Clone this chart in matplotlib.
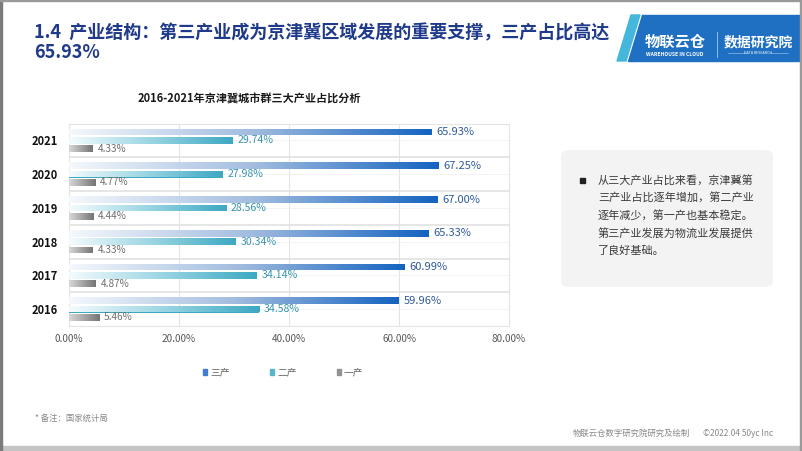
import numpy as np
import matplotlib
matplotlib.use('Agg')
import matplotlib.pyplot as plt
from matplotlib.colors import LinearSegmentedColormap
from matplotlib.patches import Rectangle, Polygon, FancyBboxPatch

plt.rcParams['font.family'] = ['Noto Sans CJK SC', 'DejaVu Sans']

years = ['2016', '2017', '2018', '2019', '2020', '2021']
tertiary = [59.96, 60.99, 65.33, 67.00, 67.25, 65.93]
secondary = [34.58, 34.14, 30.34, 28.56, 27.98, 29.74]
primary = [5.46, 4.87, 4.33, 4.44, 4.77, 4.33]
series_names = ['三产', '二产', '一产']
xticks = [0, 20, 40, 60, 80]

title = '1.4  产业结构：第三产业成为京津冀区域发展的重要支撑，三产占比高达'
title2 = '65.93%'
chart_title = '2016-2021年京津冀城市群三大产业占比分析'
note_lines = ['从三大产业占比来看，京津冀第', '三产业占比逐年增加，第二产业',
              '逐年减少，第一产也基本稳定。', '第三产业发展为物流业发展提供',
              '了良好基础。']

W, H = 802, 451
fig = plt.figure(figsize=(W / 100, H / 100), dpi=100)
fig.patch.set_facecolor('white')


def fx(px):
    return px / W


def fy(py):
    return 1 - py / H


cm3 = LinearSegmentedColormap.from_list('c3', ['#f5f8fc', '#a3bde0', '#1463c0'])
cm2 = LinearSegmentedColormap.from_list('c2', ['#f4fbfd', '#9ad5e3', '#3da8c3'])
cm1 = LinearSegmentedColormap.from_list('c1', ['#d8d8d8', '#747474'])

ax = fig.add_axes([fx(69), fy(326), fx(509) - fx(69), fy(123.5) - fy(326)])
y = np.arange(len(years))
off, h = 0.245, 0.2
series = [(tertiary, off, cm3, '#2f5a99', 8),
          (secondary, 0, cm2, '#3894ad', 7.6),
          (primary, -off, cm1, '#6e6e6e', 7.2)]

for vals, o, cm, lc, fs in series:
    bars = ax.barh(y + o, vals, height=h, color=cm(1.0), zorder=3)
    for b, v in zip(bars, vals):
        x0, y0, w, hh = b.get_x(), b.get_y(), b.get_width(), b.get_height()
        im = ax.imshow(np.linspace(0, 1, 256).reshape(1, -1), extent=[x0, x0 + w, y0, y0 + hh],
                       aspect='auto', cmap=cm, zorder=4, interpolation='bilinear')
        im.set_clip_path(b)
        ax.annotate(f'{v:.2f}%', (x0 + w, y0 + hh / 2), xytext=(3.5, 0),
                    textcoords='offset points', va='center', ha='left',
                    fontsize=fs, color=lc, zorder=5)

ax.set_xlim(0, 80)
ax.set_ylim(-0.5, len(years) - 0.5)
ax.set_xticks(xticks)
ax.set_xticklabels([f'{t:.2f}%' for t in xticks])
ax.set_yticks(y)
ax.set_yticklabels(years, fontweight='bold')
ax.tick_params(axis='x', length=0, pad=6, labelsize=7.2, labelcolor='#595959')
ax.tick_params(axis='y', length=0, pad=8, labelsize=8, labelcolor='#111111')
for t in xticks[1:-1]:
    ax.axvline(t, color='#e4e4e4', lw=0.8, zorder=1)
for i in range(len(years) - 1):
    ax.axhline(i + 0.5, color='#e2e2e2', lw=1.2, zorder=1)
for i in range(len(years)):
    ax.axhline(i, color='#f1f1f1', lw=0.6, zorder=1)
for s in ax.spines.values():
    s.set_color('#e4e4e4')
    s.set_linewidth(0.8)

# chart title
fig.text(fx(249), fy(99), chart_title, ha='center', va='center', fontsize=8,
         fontweight='bold', color='#1a1a1a')

# legend
leg_x = [205, 272, 339]
leg_c = [cm3(0.85), cm2(0.85), cm1(0.7)]
for lx, name, c in zip(leg_x, series_names, leg_c):
    fig.add_artist(Rectangle((fx(lx - 2), fy(375)), fx(4), fy(369) - fy(375), color=c,
                             transform=fig.transFigure))
    fig.text(fx(lx + 5), fy(372), name, ha='left', va='center', fontsize=7, color='#666666')

# heading
fig.text(fx(34), fy(33), title, ha='left', va='center', fontsize=13,
         fontweight='bold', color='#1f3a8a')
fig.text(fx(34), fy(53), title2, ha='left', va='center', fontsize=13,
         fontweight='bold', color='#1f3a8a')

# logo banner
fig.add_artist(Polygon([(fx(617), fy(61)), (fx(626), fy(61)), (fx(640), fy(15)), (fx(631), fy(15))],
                       closed=True, color='#45b6dc', transform=fig.transFigure))
fig.add_artist(Polygon([(fx(628), fy(61)), (fx(802), fy(61)), (fx(802), fy(15)), (fx(642), fy(15))],
                       closed=True, color='#1f6fc2', transform=fig.transFigure))
fig.text(fx(675), fy(42), '物联云仓', ha='center', va='center', fontsize=11,
         fontweight='bold', color='white')
fig.text(fx(675), fy(54), 'WAREHOUSE IN CLOUD', ha='center', va='center', fontsize=3.6,
         fontweight='bold', color='white')
fig.add_artist(plt.Line2D([fx(717), fx(717)], [fy(32), fy(57)], color='#a9cbee', lw=0.6,
                          transform=fig.transFigure))
fig.text(fx(758), fy(42), '数据研究院', ha='center', va='center', fontsize=10,
         fontweight='bold', color='white')
fig.text(fx(758), fy(53), 'DATA RESEARCH', ha='center', va='center', fontsize=2.6,
         color='white')
for a, b in [(728, 746), (770, 788)]:
    fig.add_artist(plt.Line2D([fx(a), fx(b)], [fy(53), fy(53)], color='#a9cbee', lw=0.4,
                              transform=fig.transFigure))

# note box
fig.add_artist(FancyBboxPatch((fx(561), fy(287)), fx(773) - fx(561), fy(150) - fy(287),
                              boxstyle='round,pad=0,rounding_size=0.012', fc='#f3f3f3', ec='none',
                              transform=fig.transFigure))
fig.add_artist(Rectangle((fx(579.5), fy(182.5)), fx(5), fy(177.5) - fy(182.5), color='#222222',
                         transform=fig.transFigure))
for k, line in enumerate(note_lines):
    fig.text(fx(598), fy(180 + 17.7 * k), line, ha='left', va='center', fontsize=8,
             color='#3a3a3a')

# footer
fig.text(fx(35), fy(418), '* 备注：国家统计局', ha='left', va='center', fontsize=6, color='#888888')
fig.text(fx(573), fy(433), '物联云仓数字研究院研究及绘制', ha='left', va='center', fontsize=6,
         color='#888888')
fig.text(fx(773), fy(433), '©2022.04 50yc Inc', ha='right', va='center', fontsize=6,
         color='#888888')

# page frame
fig.add_artist(Rectangle((0, 0), 1, fy(446), color='#c4c4c4', transform=fig.transFigure))
fig.add_artist(Rectangle((0, 0), fx(2), 1, color='#7a7a7a', transform=fig.transFigure))
fig.add_artist(Rectangle((fx(800), 0), fx(2), 1, color='#9a9a9a', transform=fig.transFigure))
fig.add_artist(Rectangle((0, fy(1)), 1, fx(1), color='#9a9a9a', transform=fig.transFigure))

fig.savefig('out.png', dpi=100)
